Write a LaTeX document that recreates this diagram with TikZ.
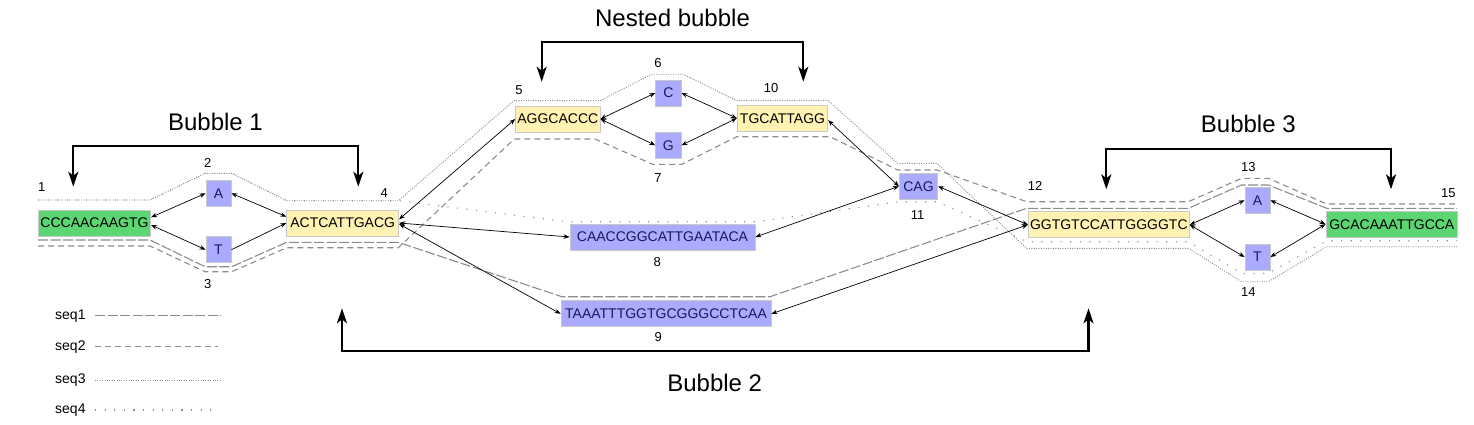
\documentclass[tikz,border=0pt]{standalone}
\usepackage{fontspec}
\setmainfont{Liberation Sans}
\usetikzlibrary{arrows.meta,calc}
\definecolor{bgreen}{RGB}{92,214,114}
\definecolor{byellow}{RGB}{255,242,178}
\definecolor{bblue}{RGB}{170,170,255}
\definecolor{bborder}{RGB}{200,200,200}
\definecolor{bnavy}{RGB}{25,25,90}
\definecolor{seqgray}{RGB}{140,140,140}
\begin{document}
\begin{tikzpicture}[x=1pt,y=-1pt,
  seqbox/.style={draw=bborder, line width=0.8pt, inner sep=0pt, minimum height=26pt, font=\fontsize{14}{16}\selectfont},
  gbox/.style={seqbox, fill=bgreen},
  ybox/.style={seqbox, fill=byellow},
  bluebox/.style={seqbox, fill=bblue, text=bnavy},
  num/.style={font=\fontsize{13}{15}\selectfont, inner sep=0pt},
  ttl/.style={font=\fontsize{24}{28}\selectfont, inner sep=0pt},
  legtxt/.style={font=\fontsize{14}{16}\selectfont, inner sep=0pt, anchor=west},
  lnk/.style={line width=0.7pt, {Stealth[length=6pt,width=4.5pt]}-{Stealth[length=6pt,width=4.5pt]}},
  lnkone/.style={line width=0.7pt, -{Stealth[length=6pt,width=4.5pt]}},
  bracket/.style={line width=2.2pt, {Stealth[length=15pt,width=10pt,inset=4pt]}-{Stealth[length=15pt,width=10pt,inset=4pt]}},
  s1/.style={seqgray, line width=1.1pt, dash pattern=on 10pt off 2.5pt},
  s2/.style={seqgray, line width=1.1pt, dash pattern=on 6pt off 4pt},
  s3/.style={seqgray, line width=0.9pt, dash pattern=on 1pt off 1.4pt},
  s4/.style={seqgray, line width=1.1pt, dash pattern=on 1.1pt off 8.5pt},
]
\path[use as bounding box] (0,0) rectangle (1474,425);

% sequence paths
\draw[s1] (38,240) -- (150,240) -- (205,266.7) -- (231.7,266.7) -- (286.7,242.3) -- (398.3,242.3) -- (561.7,296.7) -- (770,296.7) -- (1026.7,208.3) -- (1188.3,208.3) -- (1241.7,185) -- (1268.3,185) -- (1326.7,208.3) -- (1457,208.3);
\draw[s2] (38,246) -- (150,246) -- (205,271.7) -- (231.7,271.7) -- (286.7,247.7) -- (398.3,247.7) -- (514.3,139) -- (595,139) -- (652.7,164.3) -- (681.7,164.3) -- (736.7,136.7) -- (830,136.7) -- (897.7,170) -- (937,170) -- (1026.7,201.7) -- (1188.3,201.7) -- (1241.7,178.3) -- (1268.3,178.3) -- (1326.7,204) -- (1457,204);
\draw[s3] (38,200) -- (150,200) -- (205,173.3) -- (231.7,173.3) -- (286.7,200.7) -- (398.3,200.7) -- (514,100.7) -- (600,100.7) -- (651.7,74.3) -- (683.3,74.3) -- (736.7,100.7) -- (828.3,100.7) -- (897.7,163.3) -- (936.7,163.3) -- (1026.7,248.3) -- (1188.3,248.3) -- (1241.7,281.7) -- (1268.3,281.7) -- (1326.7,246.7) -- (1457,246.7);
\draw[s4] (38,200) -- (150,200) -- (205,173.3) -- (231.7,173.3) -- (286.7,200.7) -- (398.3,200.7) -- (567,221.7) -- (757,221.7) -- (899,201.7) -- (937,201.7) -- (1026.7,241.7) -- (1188.3,241.7) -- (1241.7,273.3) -- (1268.3,273.3) -- (1326.7,240.7) -- (1457,240.7);

% nodes
\node[gbox, minimum width=112.4pt] (n1) at (94.5,223) {CCCAACAAGTG};
\node[bluebox, minimum width=25pt] (n2) at (218.5,193.3) {A};
\node[bluebox, minimum width=25pt] (n3) at (218.5,249.7) {T};
\node[ybox, minimum width=112pt] (n4) at (342.7,223) {ACTCATTGACG};
\node[ybox, minimum width=84.3pt] (n5) at (557.8,119) {AGGCACCC};
\node[bluebox, minimum width=25.3pt] (n6) at (668.3,93) {C};
\node[bluebox, minimum width=25.3pt] (n7) at (668.3,145.3) {G};
\node[bluebox, minimum width=185pt] (n8) at (662.5,237) {CAACCGGCATTGAATACA};
\node[bluebox, minimum width=210pt] (n9) at (666,313.8) {TAAATTTGGTGCGGGCCTCAA};
\node[ybox, minimum width=90.4pt] (n10) at (782.5,118.2) {TGCATTAGG};
\node[bluebox, minimum width=38.4pt] (n11) at (918.5,186.3) {CAG};
\node[ybox, minimum width=161pt] (n12) at (1108.8,224.8) {GGTGTCCATTGGGGTC};
\node[bluebox, minimum width=25pt] (n13) at (1257.5,200.3) {A};
\node[bluebox, minimum width=25pt] (n14) at (1257.5,257) {T};
\node[gbox, minimum width=131.7pt] (n15) at (1391.8,224.2) {GCACAAATTGCCA};

% number labels
\node[num] (l1) at (41.7,187.3) {1};
\node[num] (l2) at (207.7,163.3) {2};
\node[num] (l3) at (207.7,284.3) {3};
\node[num] (l4) at (384.3,193.3) {4};
\node[num] (l5) at (519,90) {5};
\node[num] (l6) at (658,63) {6};
\node[num] (l7) at (658,178) {7};
\node[num] (l8) at (657.3,261.7) {8};
\node[num] (l9) at (658.3,336.7) {9};
\node[num] (l10) at (771,88) {10};
\node[num] (l11) at (917.7,215) {11};
\node[num] (l12) at (1035,186) {12};
\node[num] (l13) at (1248.3,166.7) {13};
\node[num] (l14) at (1248.3,291.7) {14};
\node[num] (l15) at (1448.3,192.7) {15};

% edges
\draw[lnk] ([yshift=5.7pt]n1.east) -- (n2.west);
\draw[lnk] ([yshift=-2pt]n1.east) -- (n3.west);
\draw[lnk] (n2.east) -- ([yshift=6.3pt]n4.west);
\draw[lnkone] (n3.east) -- (n4.west);
\draw[lnk] ([yshift=3.7pt]n4.east) -- (n5.west);
\draw[lnk] (n4.east) -- (n8.west);
\draw[lnk] ([yshift=-1pt]n4.east) -- (n9.west);
\draw[lnk] (n5.east) -- (n6.west);
\draw[lnk] (n5.east) -- (n7.west);
\draw[lnk] (n6.east) -- (n10.west);
\draw[lnk] (n7.east) -- (n10.west);
\draw[lnk] ([yshift=-2pt]n10.east) -- (n11.west);
\draw[lnk] (n8.east) -- (n11.west);
\draw[lnk] (n11.east) -- (n12.west);
\draw[lnk] (n9.east) -- (n12.west);
\draw[lnk] (n12.east) -- (n13.west);
\draw[lnk] (n12.east) -- (n14.west);
\draw[lnk] (n13.east) -- (n15.west);
\draw[lnk] (n14.east) -- (n15.west);

% titles
\node[ttl] (t1) at (215.5,121.5) {Bubble 1};
\node[ttl] (tn) at (672.5,18) {Nested bubble};
\node[ttl] (t2) at (714.7,382.5) {Bubble 2};
\node[ttl] (t3) at (1248.3,124) {Bubble 3};

% brackets
\coordinate (b1L) at (73.3,186.7);
\coordinate (b1R) at (358.3,186.7);
\coordinate (b1T) at (215,146);
\draw[bracket] (b1L) |- (b1T) -| (b1R);
\coordinate (bnL) at (541.7,81.7);
\coordinate (bnR) at (803.3,81.7);
\coordinate (bnT) at (672,41.7);
\draw[bracket] (bnL) |- (bnT) -| (bnR);
\coordinate (b3L) at (1106.3,189.3);
\coordinate (b3R) at (1391,189.3);
\coordinate (b3T) at (1248,149.3);
\draw[bracket] (b3L) |- (b3T) -| (b3R);
\coordinate (b2L) at (342,308.3);
\coordinate (b2R) at (1088.5,308.3);
\coordinate (b2B) at (715,350.7);
\draw[bracket] (b2L) |- (b2B) -| (b2R);

% legend
\node[legtxt] (g1) at (55,315.7) {seq1};
\node[legtxt] (g2) at (55,346.7) {seq2};
\node[legtxt] (g3) at (55,380) {seq3};
\node[legtxt] (g4) at (55,410) {seq4};
\draw[s1] (95,315.7) -- (220.7,315.7);
\draw[s2] (95,346.7) -- (218,346.7);
\draw[s3] (95,380) -- (220,380);
\draw[s4] (95,410) -- (218,410);
\end{tikzpicture}
\end{document}
